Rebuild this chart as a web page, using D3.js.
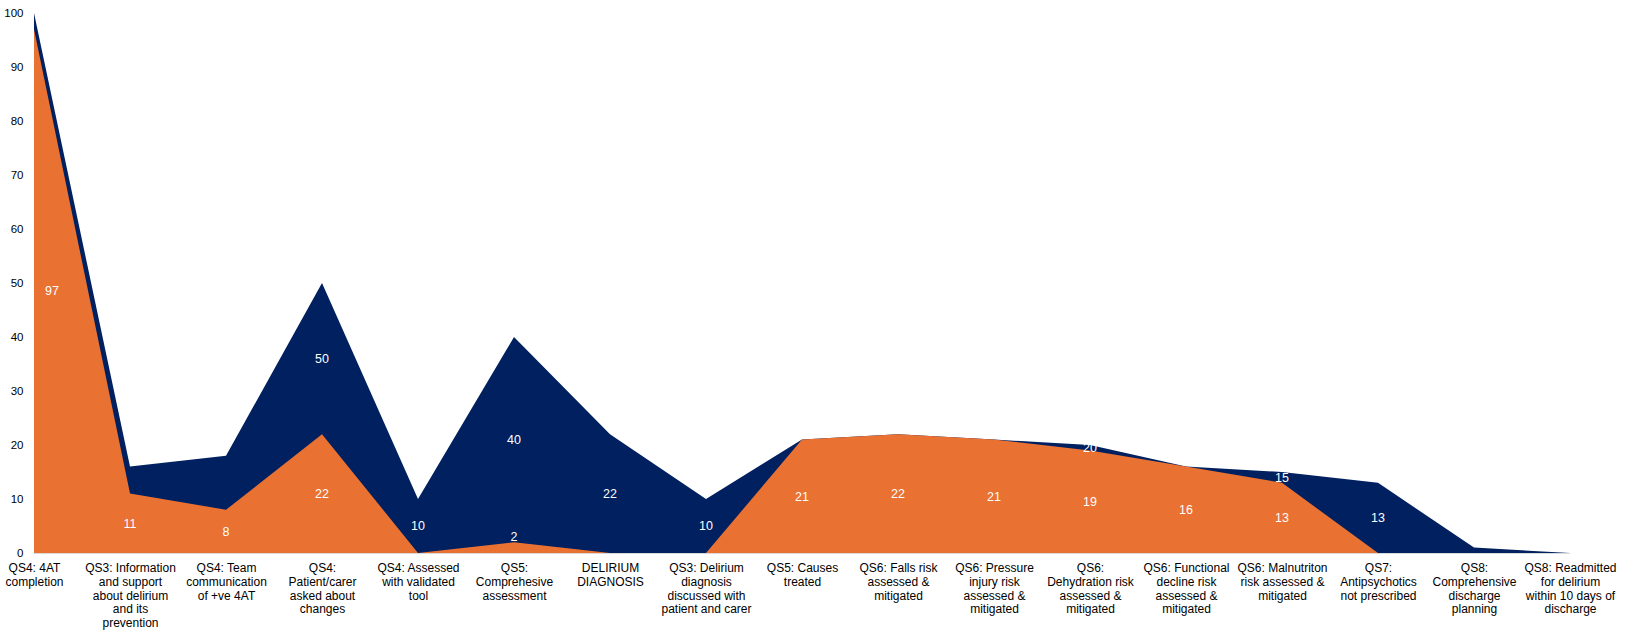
<!DOCTYPE html>
<html><head><meta charset="utf-8">
<script src="https://cdn.jsdelivr.net/npm/d3@7"></script>
<style>
body{margin:0;background:#fff;}
svg{display:block;font-family:"Liberation Sans",Arial,sans-serif;}
</style>
</head><body><svg id="chart" width="1627" height="632"></svg>
<script>
// ---- data ----
const categories = [
  "QS4: 4AT|completion",
  "QS3: Information|and support|about delirium|and its|prevention",
  "QS4: Team|communication|of +ve 4AT",
  "QS4:|Patient/carer|asked about|changes",
  "QS4: Assessed|with validated|tool",
  "QS5:|Comprehesive|assessment",
  "DELIRIUM|DIAGNOSIS",
  "QS3: Delirium|diagnosis|discussed with|patient and carer",
  "QS5: Causes|treated",
  "QS6: Falls risk|assessed &|mitigated",
  "QS6: Pressure|injury risk|assessed &|mitigated",
  "QS6:|Dehydration risk|assessed &|mitigated",
  "QS6: Functional|decline risk|assessed &|mitigated",
  "QS6: Malnutriton|risk assessed &|mitigated",
  "QS7:|Antipsychotics|not prescribed",
  "QS8:|Comprehensive|discharge|planning",
  "QS8: Readmitted|for delirium|within 10 days of|discharge"
];
const navyValues   = [100, 16, 18, 50, 10, 40, 22, 10, 21, 22, 21, 20, 16, 15, 13, 1, 0];
const orangeValues = [97, 11, 8, 22, 0, 2, 0, 0, 21, 22, 21, 19, 16, 13, 0, 0, 0];
const navyLabels   = [null, null, null, "50", "10", "40", "22", "10", null, null, null, "20", null, "15", "13", null, null];
const orangeLabels = ["97", "11", "8", "22", null, "2", null, null, "21", "22", "21", "19", "16", "13", null, null, null];
const yTicks = [0, 10, 20, 30, 40, 50, 60, 70, 80, 90, 100];

// ---- layout ----
const NAVY = "#002060", ORANGE = "#E97132";
const svg = d3.select("#chart");
const x = d3.scalePoint().domain(categories).range([34, 1570]);
const y = d3.scaleLinear().domain([0, 100]).range([553, 13]);

const navyData = categories.map((c, i) => ({c, v: navyValues[i], lo: orangeValues[i], lab: navyLabels[i], i}));
const orangeData = categories.map((c, i) => ({c, v: orangeValues[i], lo: 0, lab: orangeLabels[i], i}));

const area = d3.area().x(d => x(d.c)).y0(y(0)).y1(d => y(d.v));

svg.append("path").datum(navyData).attr("d", area).attr("fill", NAVY);
svg.append("path").datum(orangeData).attr("d", area).attr("fill", ORANGE);

// baseline
svg.append("line")
  .attr("x1", x.range()[0]).attr("x2", x.range()[1])
  .attr("y1", y(0) + 0.5).attr("y2", y(0) + 0.5)
  .attr("stroke", "#d9d9d9").attr("stroke-width", 1);

// y axis
const yAxis = svg.append("g").attr("transform", `translate(${x.range()[0]},0)`)
  .call(d3.axisLeft(y).tickValues(yTicks).tickSize(0).tickPadding(10.5));
yAxis.select(".domain").remove();
yAxis.selectAll("text").attr("font-size", "11.5px").attr("fill", "#000")
  .attr("font-family", '"Liberation Sans",Arial,sans-serif');

// x axis labels (multi-line)
const xAxis = svg.append("g").attr("transform", `translate(0,${y(0)})`)
  .call(d3.axisBottom(x).tickSize(0).tickFormat(""));
xAxis.select(".domain").remove();
xAxis.selectAll(".tick").each(function(d) {
  const t = d3.select(this).append("text")
    .attr("text-anchor", "middle").attr("fill", "#000")
    .attr("font-size", "12px")
    .attr("font-family", '"Liberation Sans",Arial,sans-serif');
  d.split("|").forEach((line, k) => {
    t.append("tspan").attr("x", 0).attr("y", 19 + k * 13.75).text(line);
  });
});

// data labels
function labelY(d) {
  const mid = (d.v + d.lo) / 2;
  return Math.min(y(mid), y(0) - 16);
}
const labels = svg.append("g").attr("font-size", "12.5px").attr("fill", "#fff")
  .attr("text-anchor", "middle").attr("font-family", '"Liberation Sans",Arial,sans-serif');
[...orangeData, ...navyData].filter(d => d.lab !== null).forEach(d => {
  labels.append("text")
    .attr("x", x(d.c) + (d.i === 0 ? 18 : 0))
    .attr("y", labelY(d))
    .attr("dy", "0.35em")
    .text(d.lab);
});
</script>
</body></html>
